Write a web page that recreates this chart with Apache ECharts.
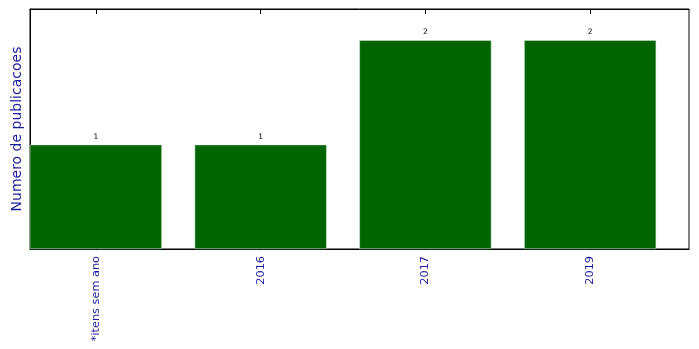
<!DOCTYPE html>
<html><head><meta charset="utf-8">
<script src="https://cdn.jsdelivr.net/npm/echarts@6/dist/echarts.min.js"></script>
<style>html,body{margin:0;padding:0;background:#fff}#c{width:699px;height:349px}</style>
</head><body><div id="c"></div>
<script>
const categories = ['*itens sem ano', '2016', '2017', '2019'];
const values = [1, 1, 2, 2];
const yMax = 2.3;

const positions = categories.map((_, i) => i);
const chart = echarts.init(document.getElementById('c'), null, {renderer: 'canvas'});
const axisLine = {show: true, onZero: false, lineStyle: {color: '#000', width: 1}};
chart.setOption({
  animation: false,
  grid: {left: 30, right: 10, top: 9, bottom: 100, show: true, borderColor: '#000', borderWidth: 1},
  xAxis: [{
    type: 'value', min: -0.4, max: 3.6,
    axisLine: axisLine, splitLine: {show: false},
    axisTick: {show: true, inside: true, length: 5, customValues: positions, lineStyle: {color: '#000'}},
    axisLabel: {show: true, customValues: positions, rotate: 90, margin: 7, color: '#1c1ca0',
      fontFamily: 'DejaVu Sans', fontSize: 11.3, formatter: v => categories[Math.round(v)]}
  }, {
    type: 'value', min: -0.4, max: 3.6, position: 'top',
    axisLine: axisLine, splitLine: {show: false},
    axisTick: {show: true, inside: true, length: 5, customValues: positions, lineStyle: {color: '#000'}},
    axisLabel: {show: false}
  }],
  yAxis: {
    type: 'value', min: 0, max: yMax,
    name: 'Numero de publicacoes', nameLocation: 'middle', nameGap: 6,
    nameTextStyle: {color: '#1c1ca0', fontFamily: 'DejaVu Sans', fontSize: 14},
    axisLine: axisLine, axisTick: {show: false}, axisLabel: {show: false}, splitLine: {show: false}
  },
  series: [{
    type: 'bar', xAxisIndex: 0,
    data: values.map((v, i) => [i, v]),
    barWidth: 132,
    itemStyle: {color: '#006400', borderColor: '#dde8dd', borderWidth: 0.5},
    label: {show: true, position: 'top', distance: 4, color: '#000', fontSize: 7.5, fontFamily: 'DejaVu Sans',
      formatter: p => String(p.value[1])}
  }]
});
</script></body></html>
